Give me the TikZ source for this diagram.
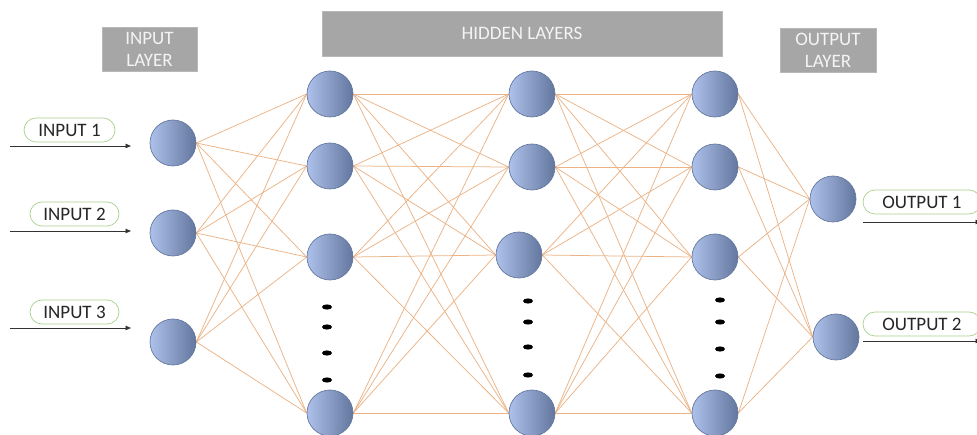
\documentclass[tikz,border=0pt]{standalone}
\usepackage{fontspec}
\setmainfont{Carlito}
\usetikzlibrary{backgrounds,arrows.meta}
\definecolor{boxgray}{HTML}{A6A6A6}
\definecolor{boxtext}{HTML}{F4F4F4}
\definecolor{wire}{HTML}{EBB386}
\definecolor{neuronL}{HTML}{ADC1EA}
\definecolor{neuronR}{HTML}{63769E}
\definecolor{neuronEdge}{HTML}{64789F}
\definecolor{pillEdge}{HTML}{A9D18E}
\definecolor{inktext}{HTML}{262626}

\begin{document}
\begin{tikzpicture}[x=1pt,y=-1pt,
  neuron/.style={circle, minimum size=46pt, inner sep=0pt, draw=neuronEdge,
    line width=0.7pt, left color=neuronL, right color=neuronR},
  layerbox/.style={fill=boxgray, draw=boxgray!80, line width=0.6pt,
    text=boxtext, inner sep=0pt, align=center,
    font=\fontsize{19}{22}\selectfont},
  pill/.style={draw=pillEdge, fill=white, line width=0.7pt, rounded corners=12pt,
    minimum height=24pt, inner sep=0pt, text=inktext,
    font=\fontsize{19}{22}\selectfont},
  wirestyle/.style={draw=wire, line width=0.75pt},
  signal/.style={draw=black!80, line width=0.8pt,
    -{Triangle[length=5.5pt,width=4.5pt]}},
  dotmark/.style={fill=black}
]
\useasboundingbox (0,0) rectangle (977,435);

% layer captions
\node[layerbox, minimum width=95pt, minimum height=44pt] (capin) at (149.5,49) {INPUT\\LAYER};
\node[layerbox, minimum width=400pt, minimum height=45pt] (caphid) at (522,33.5) {HIDDEN LAYERS};
\node[layerbox, minimum width=96pt, minimum height=44pt] (capout) at (828,50) {OUTPUT\\LAYER};

% input layer
\node[neuron] (i1) at (173,143) {};
\node[neuron] (i2) at (173,233) {};
\node[neuron] (i3) at (173,342) {};

% hidden layer 1
\node[neuron] (a1) at (330,94) {};
\node[neuron] (a2) at (330,166) {};
\node[neuron] (a3) at (330,257) {};
\node[neuron] (a4) at (330,413) {};

% hidden layer 2
\node[neuron] (b1) at (532,94) {};
\node[neuron] (b2) at (532,167) {};
\node[neuron] (b3) at (519,255) {};
\node[neuron] (b4) at (532,413) {};

% hidden layer 3
\node[neuron] (c1) at (715,94) {};
\node[neuron] (c2) at (715,167) {};
\node[neuron] (c3) at (715,257) {};
\node[neuron] (c4) at (715,413) {};

% output layer
\node[neuron] (o1) at (833,199) {};
\node[neuron] (o2) at (836,337) {};

% weighted connections between neighbouring layers
\begin{scope}[on background layer]
  \foreach \s in {1,2,3}
    \foreach \t in {1,...,4}
      \draw[wirestyle] (i\s.east) -- (a\t.west);
  \foreach \s in {1,...,4}
    \foreach \t in {1,...,4}
      \draw[wirestyle] (a\s.east) -- (b\t.west);
  \foreach \s in {1,...,4}
    \foreach \t in {1,...,4}
      \draw[wirestyle] (b\s.east) -- (c\t.west);
  \foreach \s in {1,...,4}
    \foreach \t in {1,2}
      \draw[wirestyle] (c\s.east) -- (o\t.west);
\end{scope}

% ellipsis dots inside the hidden layers
\foreach \y in {307,327,353,380} \fill[dotmark] (327,\y) ellipse (5 and 2.6);
\foreach \y in {301,322,347,375} \fill[dotmark] (528,\y) ellipse (5 and 2.6);
\foreach \y in {300,322,349,376} \fill[dotmark] (720,\y) ellipse (5 and 2.6);

% inputs
\node[pill, minimum width=91pt] (p1) at (69.5,130) {INPUT 1};
\node[pill, minimum width=89pt] (p2) at (74.5,214) {INPUT 2};
\node[pill, minimum width=89pt] (p3) at (74.5,312) {INPUT 3};
\coordinate (s1) at (10,146);  \coordinate (e1) at (131,146);
\coordinate (s2) at (10,231);  \coordinate (e2) at (131,231);
\coordinate (s3) at (10,328);  \coordinate (e3) at (131,328);
\draw[signal] (s1) -- (e1);
\draw[signal] (s2) -- (e2);
\draw[signal] (s3) -- (e3);

% outputs
\node[pill, minimum width=118pt] (q1) at (922,202) {OUTPUT 1};
\node[pill, minimum width=118pt] (q2) at (922,324) {OUTPUT 2};
\coordinate (u1) at (863,222);  \coordinate (v1) at (981,222);
\coordinate (u2) at (863,341);  \coordinate (v2) at (981,341);
\draw[signal] (u1) -- (v1);
\draw[signal] (u2) -- (v2);
\end{tikzpicture}
\end{document}
